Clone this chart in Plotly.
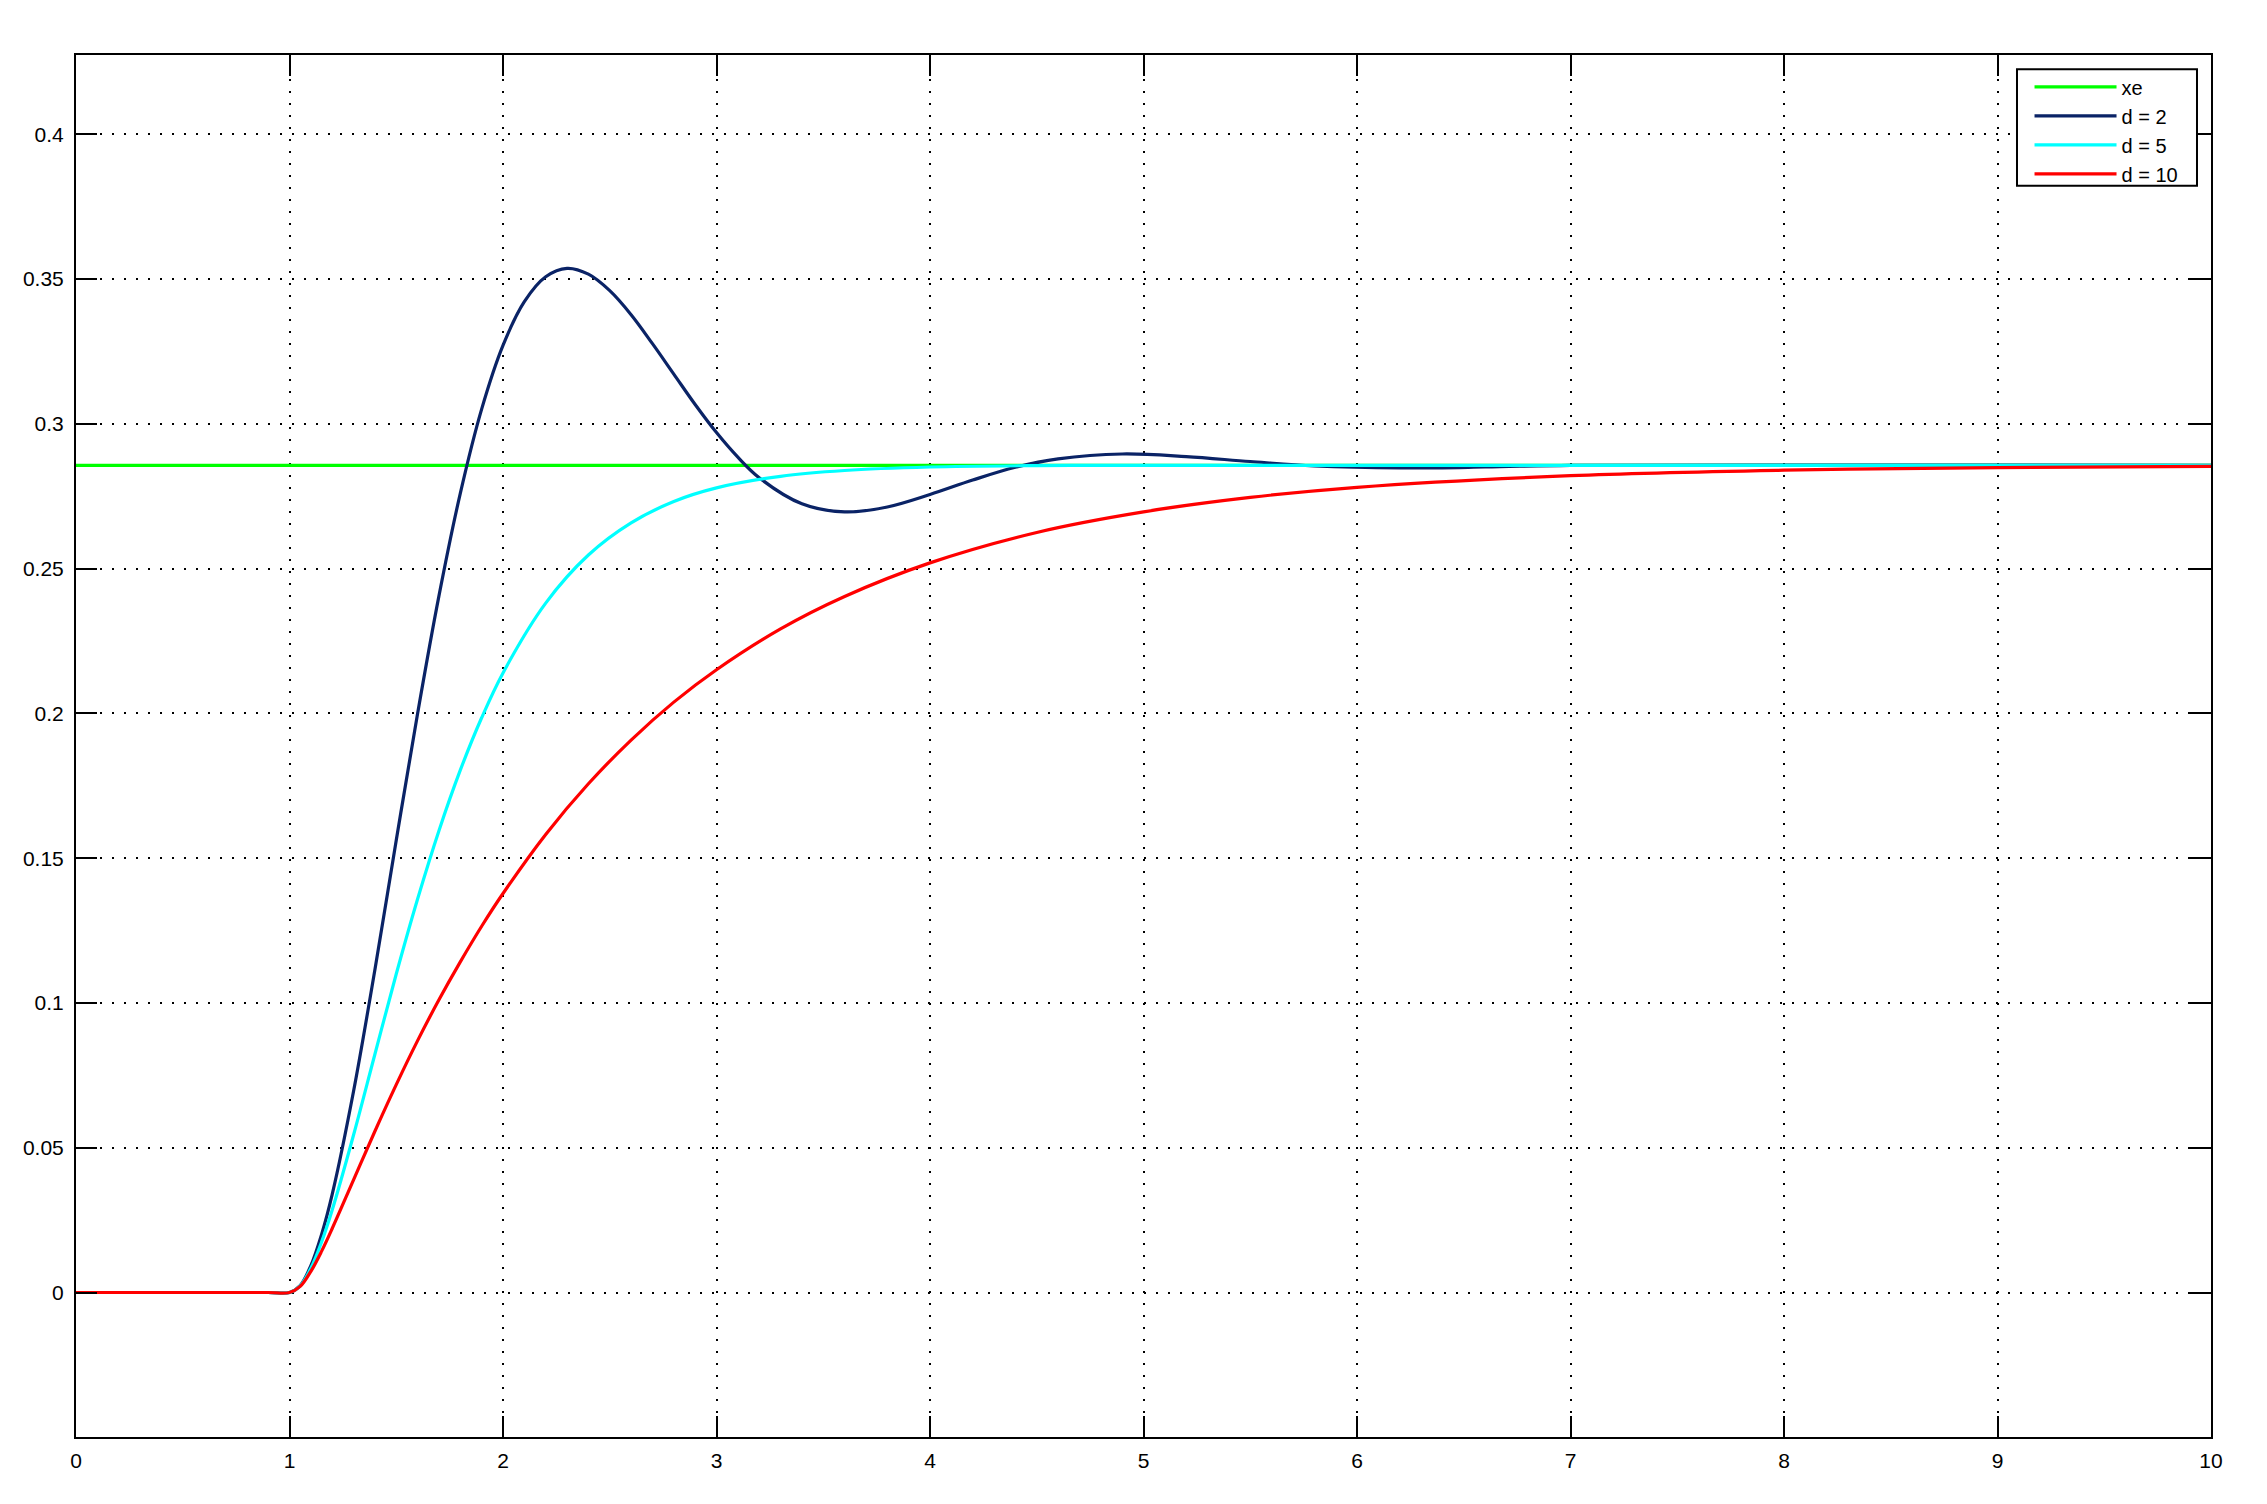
import plotly.graph_objects as go

# ---- data (time, position) ----
t_xe = [0, 10]
xe_vals = [0.2857, 0.2857]

t_d2 = [0, 0.5, 0.9, 1.0, 1.05, 1.1, 1.15, 1.2, 1.3, 1.4, 1.5, 1.6, 1.7, 1.8, 1.9, 2.0,
        2.1, 2.2, 2.3, 2.4, 2.5, 2.6, 2.7, 2.8, 2.9, 3.0, 3.1, 3.2, 3.4, 3.6, 3.8, 4.0,
        4.2, 4.4, 4.6, 4.9, 5.2, 5.5, 5.8, 6.2, 6.6, 7.0, 8.0, 10.0]
x_d2 = [0, 0, 0, 0, 0.0024, 0.0093, 0.0200, 0.0339, 0.0695, 0.1115, 0.1562, 0.2000,
        0.2406, 0.2760, 0.3051, 0.3271, 0.3422, 0.3508, 0.3537, 0.3517, 0.3460, 0.3377,
        0.3277, 0.3172, 0.3067, 0.2970, 0.2885, 0.2814, 0.2724, 0.2696, 0.2713, 0.2756,
        0.2806, 0.2850, 0.2879, 0.2896, 0.2887, 0.2870, 0.2855, 0.2848, 0.2851, 0.2857,
        0.2858, 0.2857]

t_d5 = [0, 0.5, 0.9, 1.0, 1.05, 1.1, 1.15, 1.2, 1.3, 1.4, 1.5, 1.6, 1.7, 1.8, 1.9, 2.0,
        2.2, 2.4, 2.6, 2.8, 3.0, 3.3, 3.6, 4.0, 4.5, 5.0, 6.0, 8.0, 10.0]
x_d5 = [0, 0, 0, 0, 0.0023, 0.0084, 0.0174, 0.0285, 0.0544, 0.0823, 0.1100, 0.1359,
        0.1595, 0.1804, 0.1985, 0.2140, 0.2381, 0.2547, 0.2658, 0.2732, 0.2779, 0.2819,
        0.2839, 0.2851, 0.2856, 0.2857, 0.2857, 0.2857, 0.2857]

t_d10 = [0, 0.5, 0.9, 1.0, 1.05, 1.1, 1.15, 1.2, 1.3, 1.4, 1.5, 1.6, 1.7, 1.8, 1.9, 2.0,
         2.2, 2.4, 2.6, 2.8, 3.0, 3.3, 3.6, 4.0, 4.5, 5.0, 5.5, 6.0, 7.0, 8.0, 9.0, 10.0]
x_d10 = [0, 0, 0, 0, 0.0021, 0.0073, 0.0142, 0.0221, 0.0389, 0.0557, 0.0718, 0.0870,
         0.1011, 0.1142, 0.1265, 0.1378, 0.1582, 0.1757, 0.1908, 0.2039, 0.2151, 0.2292,
         0.2404, 0.2520, 0.2625, 0.2696, 0.2746, 0.2781, 0.2821, 0.2840, 0.2849, 0.2853]

x_ticks = [0, 1, 2, 3, 4, 5, 6, 7, 8, 9, 10]
x_ticktext = ["0", "1", "2", "3", "4", "5", "6", "7", "8", "9", "10"]
y_ticks = [0, 0.05, 0.1, 0.15, 0.2, 0.25, 0.3, 0.35, 0.4]
y_ticktext = ["0", "0.05", "0.1", "0.15", "0.2", "0.25", "0.3", "0.35", "0.4"]

series = [
    ("xe", t_xe, xe_vals, "#00FF00"),
    ("d = 2", t_d2, x_d2, "#0A2366"),
    ("d = 5", t_d5, x_d5, "#00FFFF"),
    ("d = 10", t_d10, x_d10, "#FF0000"),
]

FONT = "Liberation Sans, Arial, Helvetica, sans-serif"

fig = go.Figure()
for name, xs, ys, col in series:
    fig.add_trace(go.Scatter(
        x=xs, y=ys, name=name, mode="lines",
        line=dict(color=col, width=3.2, shape="spline", smoothing=1.0),
    ))

axis_common = dict(
    showline=True, linecolor="black", linewidth=2, mirror="allticks",
    ticks="inside", ticklen=21, tickwidth=2, tickcolor="black",
    showgrid=True, gridcolor="black", gridwidth=2, griddash="2px,10px",
    zeroline=False,
    tickfont=dict(family=FONT, size=21, color="black"),
)

# legend frame (white box with black border), legend entries drawn on top of it
fig.add_shape(type="rect", xref="paper", yref="paper",
              x0=0.90913, x1=0.99344, y0=0.90543, y1=0.98965,
              line=dict(color="black", width=2), fillcolor="white", layer="above")

fig.update_layout(
    width=2267, height=1504,
    margin=dict(l=76, r=56, t=55, b=67),
    paper_bgcolor="white", plot_bgcolor="white",
    showlegend=True,
    legend=dict(
        x=0.9150, y=0.9911, xanchor="left", yanchor="top",
        bgcolor="rgba(0,0,0,0)", borderwidth=0,
        font=dict(family=FONT, size=20, color="black"),
        itemwidth=82, tracegroupgap=0,
    ),
    xaxis=dict(range=[0, 10], tickvals=x_ticks, ticktext=x_ticktext,
               ticklabelstandoff=4, **axis_common),
    yaxis=dict(range=[-0.0499, 0.4274], tickvals=y_ticks, ticktext=y_ticktext,
               ticklabelstandoff=6, **axis_common),
)

fig.write_html("out.html")
